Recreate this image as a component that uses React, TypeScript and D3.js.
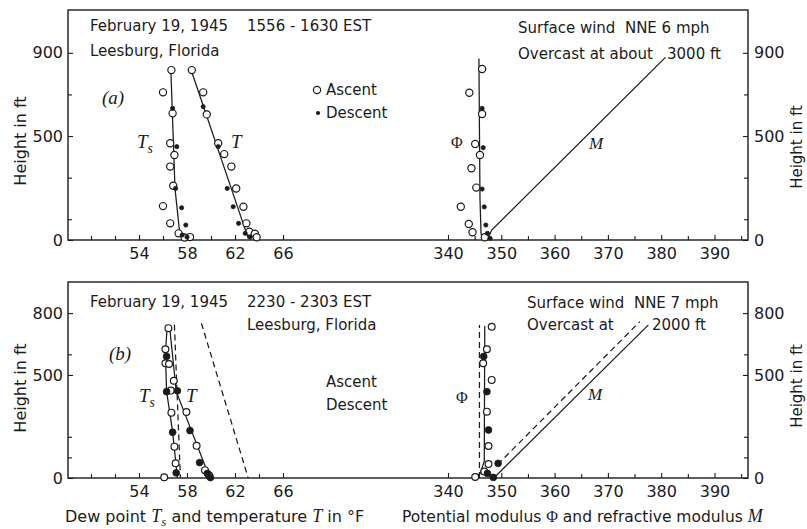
import React, { useEffect, useRef } from 'react';
import * as d3 from 'd3';

type Pt = [number, number]; // [x value, height in ft]

// ---- Panel (a): 1556-1630 EST ----
const tsAscentA: Pt[] = [
  [56.7, 817], [56.0, 710], [56.8, 609], [56.6, 465], [56.95, 409], [56.6, 353],
  [56.85, 261], [56.0, 163], [56.6, 80], [57.3, 32], [58.25, 14], [57.8, 12],
];
const tsDescentA: Pt[] = [
  [56.8, 633], [57.15, 449], [57.05, 248], [57.55, 155], [57.9, 72], [57.6, 24], [58.0, 14],
];
const tAscentA: Pt[] = [
  [58.4, 817], [59.35, 710], [59.65, 604], [60.6, 465], [61.1, 413], [61.7, 353],
  [62.1, 248], [62.7, 160], [62.95, 80], [63.2, 40], [63.65, 30], [63.8, 13],
];
const tDescentA: Pt[] = [
  [59.35, 641], [60.6, 449], [61.35, 248], [61.85, 160], [62.3, 80], [62.85, 32], [63.25, 14],
];
const tsLineA: Pt[] = [[56.65, 825], [57.0, 248], [57.35, 56], [57.7, 4]];
const tLineA: Pt[] = [[58.3, 825], [63.1, 8]];

const phiAscentA: Pt[] = [
  [346.4, 822], [344.0, 708], [346.4, 606], [345.1, 462], [346.0, 409], [344.4, 345],
  [345.3, 252], [342.4, 160], [343.9, 77], [344.6, 37], [346.9, 13],
];
const phiDescentA: Pt[] = [
  [346.4, 633], [346.6, 444], [346.4, 245], [346.8, 159], [347.1, 72], [347.4, 32], [347.9, 8],
];
const phiLineA: Pt[] = [[346.7, 0], [346.2, 30], [346.0, 200], [345.8, 873]];
const mLineA: Pt[] = [[347.5, 8], [348.2, 48], [380.8, 878]];

// ---- Panel (b): 2230-2303 EST ----
const tsAscentB: Pt[] = [
  [56.45, 727], [56.2, 625], [56.2, 557], [56.5, 553], [56.9, 472], [56.65, 424],
  [56.7, 317], [56.95, 152], [57.05, 71], [56.1, 4],
];
const tsDescentB: Pt[] = [[56.3, 590], [56.3, 419], [56.8, 222], [57.1, 25]];
const tAscentB: Pt[] = [[57.95, 320], [58.8, 156], [59.5, 38], [59.85, 12]];
const tDescentB: Pt[] = [[57.2, 423], [58.25, 230], [59.05, 75], [59.7, 22], [59.95, 2]];
const tsLineB: Pt[] = [[56.35, 735], [56.2, 605], [56.3, 420], [56.8, 225], [57.2, 0]];
const tLineB: Pt[] = [[56.55, 735], [57.1, 420], [59.9, 0]];
const tsDashB: Pt[] = [[56.95, 745], [57.45, 0]];
const tDashB: Pt[] = [[59.2, 751], [63.1, 0]];

const phiAscentB: Pt[] = [
  [348.2, 734], [347.3, 625], [346.6, 557], [348.2, 476], [347.3, 322],
  [347.6, 155], [347.6, 68], [346.8, 31], [345.1, 5],
];
const phiDescentB: Pt[] = [[346.7, 590], [347.3, 419], [347.6, 233], [349.4, 71], [347.4, 22], [348.5, 3]];
const phiLineB: Pt[] = [[344.6, 0], [346.0, 20], [346.8, 80], [346.9, 738]];
const phiDashB: Pt[] = [[345.9, 0], [345.9, 742]];
const mLineB: Pt[] = [[348.6, 0], [377.6, 743]];
const mDashB: Pt[] = [[349.3, 65], [376.0, 759]];

// ---- Axes ----
const tempTicks = [54, 58, 62, 66];
const tempMinor = [50, 52, 56, 60, 64];
const modTicks = [340, 350, 360, 370, 380, 390];
const modMinor = [345, 355, 365, 375, 385, 395];
const heightTicksA = [0, 500, 900];
const heightMinorA = [100, 300, 700];
const heightTicksB = [0, 500, 800];
const heightMinorB = [100, 200, 600];

const SANS = '"DejaVu Sans", sans-serif';
const SERIF = '"Liberation Serif", "DejaVu Serif", serif';
const INK = '#1b1b1b';

const App: React.FC = () => {
  const svgRef = useRef<SVGSVGElement>(null);

  useEffect(() => {
    if (!svgRef.current) return;
    const svg = d3.select(svgRef.current);
    svg.selectAll('*').remove();

    const left = 68;
    const right = 748;
    const xTemp = d3.scaleLinear().domain([54, 66]).range([139, 283]);
    const xMod = d3.scaleLinear().domain([340, 390]).range([448, 714.5]);

    const text = (x: number, y: number, s: string, size = 15, family = SANS, italic = false) =>
      svg.append('text')
        .attr('x', x)
        .attr('y', y)
        .style('font-family', family)
        .style('font-size', `${size}px`)
        .style('font-style', italic ? 'italic' : 'normal')
        .style('fill', INK)
        .text(s);

    const sub = (x: number, y: number, main: string, s: string, size = 19) => {
      const t = svg.append('text')
        .attr('x', x).attr('y', y)
        .style('font-family', SERIF).style('font-style', 'italic')
        .style('font-size', `${size}px`).style('fill', INK);
      t.append('tspan').text(main);
      t.append('tspan').attr('dy', 5).style('font-size', `${size * 0.72}px`).text(s);
    };

    const vlabel = (x: number, y: number, size = 16) =>
      svg.append('text')
        .attr('transform', `translate(${x}, ${y}) rotate(-90)`)
        .attr('text-anchor', 'middle')
        .attr('dominant-baseline', 'central')
        .style('font-family', SANS).style('font-size', `${size}px`).style('fill', INK)
        .text('Height in ft');

    const drawFrame = (y: d3.ScaleLinear<number, number>, major: number[], minor: number[]) => {
      const [bottom, top] = y.range();
      const style = (g: d3.Selection<SVGGElement, unknown, null, undefined>) => {
        g.select('.domain').remove();
        g.selectAll('line').attr('stroke', INK).attr('stroke-width', 1.1);
        g.selectAll('text').style('font-family', SANS).style('font-size', '16px').style('fill', INK);
      };
      const axes: [d3.Axis<d3.NumberValue>, string][] = [
        [d3.axisLeft(y).tickValues(major).tickSize(-5).tickPadding(5), `translate(${left},0)`],
        [d3.axisLeft(y).tickValues(minor).tickSize(-4).tickFormat(() => ''), `translate(${left},0)`],
        [d3.axisRight(y).tickValues(major).tickSize(-5).tickPadding(6), `translate(${right},0)`],
        [d3.axisRight(y).tickValues(minor).tickSize(-4).tickFormat(() => ''), `translate(${right},0)`],
        [d3.axisBottom(xTemp).tickValues(tempTicks).tickSize(-5).tickPadding(8), `translate(0,${bottom})`],
        [d3.axisBottom(xTemp).tickValues(tempMinor).tickSize(-4).tickFormat(() => ''), `translate(0,${bottom})`],
        [d3.axisBottom(xMod).tickValues(modTicks).tickSize(-5).tickPadding(8), `translate(0,${bottom})`],
        [d3.axisBottom(xMod).tickValues(modMinor).tickSize(-4).tickFormat(() => ''), `translate(0,${bottom})`],
      ];
      axes.forEach(([axis, tr]) => {
        svg.append('g').attr('transform', tr).call(axis).call(style);
      });
      svg.append('rect')
        .attr('x', left).attr('y', top)
        .attr('width', right - left).attr('height', bottom - top)
        .attr('fill', 'none').attr('stroke', INK).attr('stroke-width', 1.4);
    };

    const path = (data: Pt[], xs: d3.ScaleLinear<number, number>, y: d3.ScaleLinear<number, number>, dashed = false) => {
      const line = d3.line<Pt>().x(d => xs(d[0])).y(d => y(d[1]));
      svg.append('path')
        .datum(data)
        .attr('d', line)
        .attr('fill', 'none')
        .attr('stroke', INK)
        .attr('stroke-width', 1.25)
        .attr('stroke-dasharray', dashed ? '6,4' : null);
    };

    const dots = (data: Pt[], xs: d3.ScaleLinear<number, number>, y: d3.ScaleLinear<number, number>, filled: boolean, r: number) => {
      svg.append('g')
        .selectAll('circle')
        .data(data)
        .enter().append('circle')
        .attr('cx', d => xs(d[0]))
        .attr('cy', d => y(d[1]))
        .attr('r', r)
        .attr('fill', filled ? INK : '#fff')
        .attr('stroke', INK)
        .attr('stroke-width', filled ? 0.8 : 1.2);
    };

    // ---------- Panel (a) ----------
    const yA = d3.scaleLinear().domain([0, 1106]).range([240, 10]);
    drawFrame(yA, heightTicksA, heightMinorA);
    path(tsLineA, xTemp, yA);
    path(tLineA, xTemp, yA);
    path(phiLineA, xMod, yA);
    path(mLineA, xMod, yA);
    dots(tsAscentA, xTemp, yA, false, 3.6);
    dots(tAscentA, xTemp, yA, false, 3.6);
    dots(phiAscentA, xMod, yA, false, 3.6);
    dots(tsDescentA, xTemp, yA, true, 2.1);
    dots(tDescentA, xTemp, yA, true, 2.1);
    dots(phiDescentA, xMod, yA, true, 2.1);

    text(90, 31, 'February 19, 1945');
    text(247, 31, '1556 - 1630 EST');
    text(90, 56, 'Leesburg, Florida');
    text(518, 33, 'Surface wind  NNE 6 mph').style('white-space', 'pre');
    text(518, 59, 'Overcast at about');
    text(667, 59, '3000 ft');
    text(102, 104, '(a)', 19, SERIF, true);
    sub(137, 148, 'T', 's');
    text(231, 148, 'T', 19, SERIF, true);
    text(451, 148, 'Φ', 16, SERIF);
    text(589, 149, 'M', 17, SERIF, true);
    svg.append('circle').attr('cx', 317).attr('cy', 90).attr('r', 3.6)
      .attr('fill', '#fff').attr('stroke', INK).attr('stroke-width', 1.2);
    svg.append('circle').attr('cx', 318).attr('cy', 113).attr('r', 2.1).attr('fill', INK);
    text(326, 95, 'Ascent');
    text(326, 118, 'Descent');

    // ---------- Panel (b) ----------
    const yB = d3.scaleLinear().domain([0, 951]).range([478, 282]);
    drawFrame(yB, heightTicksB, heightMinorB);
    path(tsLineB, xTemp, yB);
    path(tLineB, xTemp, yB);
    path(tsDashB, xTemp, yB, true);
    path(tDashB, xTemp, yB, true);
    path(phiLineB, xMod, yB);
    path(phiDashB, xMod, yB, true);
    path(mLineB, xMod, yB);
    path(mDashB, xMod, yB, true);
    dots(tsAscentB, xTemp, yB, false, 3.4);
    dots(tAscentB, xTemp, yB, false, 3.4);
    dots(phiAscentB, xMod, yB, false, 3.4);
    dots(tsDescentB, xTemp, yB, true, 3.4);
    dots(tDescentB, xTemp, yB, true, 3.4);
    dots(phiDescentB, xMod, yB, true, 3.4);

    text(90, 307, 'February 19, 1945');
    text(247, 307, '2230 - 2303 EST');
    text(247, 330, 'Leesburg, Florida');
    text(527, 308, 'Surface wind  NNE 7 mph').style('white-space', 'pre');
    text(527, 330, 'Overcast at');
    text(652, 330, '2000 ft');
    text(109, 360, '(b)', 19, SERIF, true);
    sub(139, 402, 'T', 's');
    text(186, 402, 'T', 19, SERIF, true);
    text(456, 403, 'Φ', 16, SERIF);
    text(588, 400, 'M', 17, SERIF, true);
    text(326, 387, 'Ascent');
    text(326, 410, 'Descent');

    // ---------- Axis titles ----------
    vlabel(20, 141);
    vlabel(20, 388);
    vlabel(797, 147, 15);
    vlabel(797, 386, 15);

    const lt = svg.append('text').attr('x', 65).attr('y', 522)
      .style('font-family', SANS).style('font-size', '16px').style('fill', INK);
    lt.append('tspan').text('Dew point ');
    lt.append('tspan').style('font-family', SERIF).style('font-style', 'italic').style('font-size', '18px').text('T');
    lt.append('tspan').attr('dy', 4).style('font-family', SERIF).style('font-style', 'italic').style('font-size', '13px').text('s');
    lt.append('tspan').attr('dy', -4).text(' and temperature ');
    lt.append('tspan').style('font-family', SERIF).style('font-style', 'italic').style('font-size', '18px').text('T');
    lt.append('tspan').text(' in °F');

    const rt = svg.append('text').attr('x', 402).attr('y', 522)
      .style('font-family', SANS).style('font-size', '15.5px').style('fill', INK);
    rt.append('tspan').text('Potential modulus ');
    rt.append('tspan').style('font-family', SERIF).style('font-size', '16px').text('Φ');
    rt.append('tspan').text(' and refractive modulus ');
    rt.append('tspan').style('font-family', SERIF).style('font-style', 'italic').style('font-size', '18px').text('M');
  }, []);

  return (
    <svg
      ref={svgRef}
      width={807}
      height={529}
      style={{ position: 'absolute', left: 0, top: 0, background: '#fff' }}
    />
  );
};

export default App;
